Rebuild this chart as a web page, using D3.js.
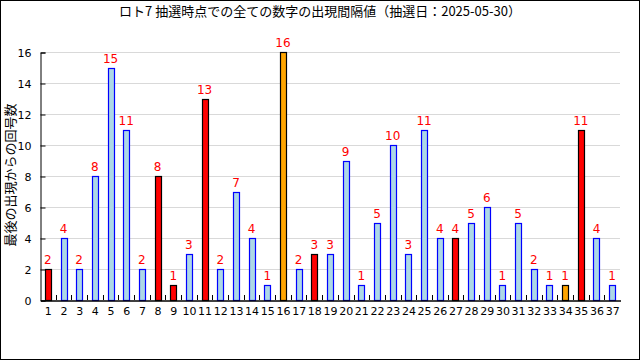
<!DOCTYPE html>
<html><head><meta charset="utf-8">
<script src="https://cdn.jsdelivr.net/npm/d3@7"></script>
<style>body{margin:0;background:#fff}svg{display:block}</style>
</head><body>
<script>
const numbers = d3.range(1, 38).map(String);
const intervals = [2,4,2,8,15,11,2,8,1,3,13,2,7,4,1,16,2,3,3,9,1,5,10,3,11,4,4,5,6,1,5,2,1,1,11,4,1];
const redNumbers = ["1","8","9","11","18","27","35"];
const orangeNumbers = ["16","34"];
const yTicks = [0,2,4,6,8,10,12,14,16];
const titleText = "ロト7 抽選時点での全ての数字の出現間隔値（抽選日：2025-05-30）";
const yTitle = "最後の出現からの回号数";

const W = 640, H = 360;
const svg = d3.select("body").append("svg").attr("width", W).attr("height", H);
svg.append("rect").attr("x",0.5).attr("y",0.5).attr("width",W-1).attr("height",H-1)
  .attr("fill","#fff").attr("stroke","#000");

const x = d3.scaleBand().domain(numbers).range([40, 620]);
const y = d3.scaleLinear().domain([0,16]).range([300, 52]);

// gridlines
svg.append("g").selectAll("line").data(yTicks.filter(d=>d>0)).join("line")
  .attr("x1",40).attr("x2",620).attr("y1",d=>Math.round(y(d))+0.5).attr("y2",d=>Math.round(y(d))+0.5)
  .attr("stroke","#d9d9d9");

// y axis
const ya = svg.append("g").attr("transform","translate(40.5,0.5)")
  .call(d3.axisLeft(y).tickValues(yTicks).tickSize(-5).tickPadding(9));
ya.select(".domain").attr("stroke","#000");
ya.selectAll("text").attr("font-family","DejaVu Sans, sans-serif").attr("font-size",11).attr("fill","#000");

// bars
const data = numbers.map((n,i)=>({n, v: intervals[i]}));
const bw = 6;
function fill(n){ return redNumbers.includes(n) ? "#ff0000" : orangeNumbers.includes(n) ? "#ffa500" : "#add8e6"; }
function stroke(n){ return (redNumbers.includes(n)||orangeNumbers.includes(n)) ? "#000" : "#0000ff"; }
svg.append("g").selectAll("rect").data(data).join("rect")
  .attr("x", d=>Math.round(x(d.n)+x.bandwidth()/2-bw/2)+0.5)
  .attr("y", d=>Math.round(y(d.v))+0.5)
  .attr("width", bw)
  .attr("height", d=>Math.round(y(0))-Math.round(y(d.v)))
  .attr("fill", d=>fill(d.n)).attr("stroke", d=>stroke(d.n)).attr("stroke-width",1.2);

// value labels
svg.append("g").selectAll("text").data(data).join("text")
  .attr("x", d=>x(d.n)+x.bandwidth()/2)
  .attr("y", d=>y(d.v)-5)
  .attr("text-anchor","middle")
  .attr("font-family","DejaVu Sans, sans-serif").attr("font-size",12)
  .attr("fill","#ff0000").text(d=>d.v);

// x axis
const xa = svg.append("g").attr("transform","translate(0.5,300.5)")
  .call(d3.axisBottom(x).tickSize(0).tickPadding(7));
xa.select(".domain").attr("stroke","#000").attr("stroke-width",1.5);
xa.selectAll("text").attr("font-family","DejaVu Sans, sans-serif").attr("font-size",11).attr("fill","#000")
  .attr("textLength", d=>d.length>1?14:null);
// boundary ticks (inward)
svg.append("g").selectAll("line").data(numbers.slice(1)).join("line")
  .attr("x1", d=>Math.round(x(d))+0.5).attr("x2", d=>Math.round(x(d))+0.5)
  .attr("y1", 300).attr("y2", 295).attr("stroke","#000");

// titles
svg.append("text").attr("x",320).attr("y",16).attr("text-anchor","middle")
  .attr("font-family","Noto Sans CJK JP, sans-serif").attr("font-size",13).attr("fill","#000")
  .text(titleText);
svg.append("text").attr("transform","translate(9,175) rotate(-90)").attr("text-anchor","middle")
  .attr("dominant-baseline","central")
  .attr("font-family","Noto Sans CJK JP, sans-serif").attr("font-size",13).attr("fill","#000")
  .text(yTitle);
</script>
</body></html>
